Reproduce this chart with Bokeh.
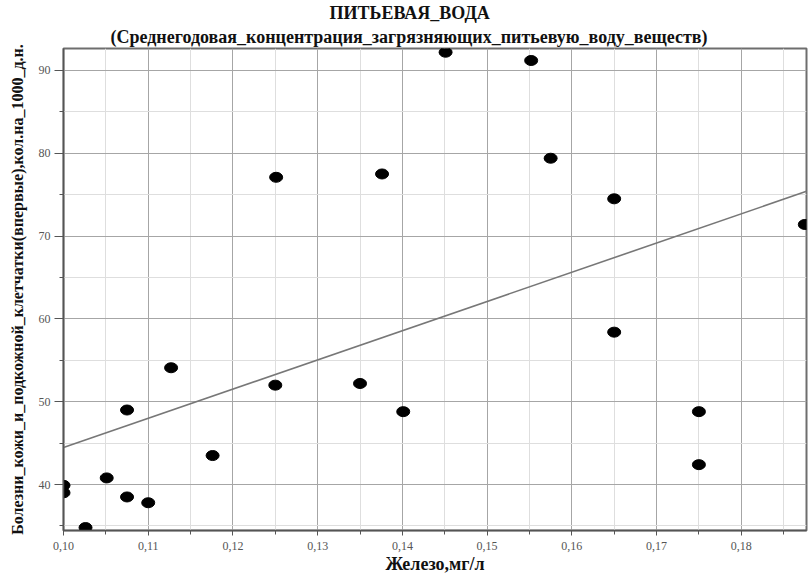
import numpy as np
from bokeh.plotting import figure
from bokeh.models import (FixedTicker, CustomJSTickFormatter, Title, ColumnDataSource, Range1d)
from bokeh.embed import file_html
from bokeh.resources import INLINE

# ---- data ----
iron = [0.1000, 0.1000, 0.1026, 0.1051, 0.1075, 0.1075, 0.1100, 0.1127, 0.1176,
        0.1250, 0.1251, 0.1350, 0.1376, 0.1401, 0.1451, 0.1552, 0.1575, 0.1650,
        0.1650, 0.1750, 0.1750, 0.1875]
skin = [39.9, 39.0, 34.8, 40.8, 49.0, 38.5, 37.8, 54.1, 43.5,
        52.0, 77.1, 52.2, 77.5, 48.8, 92.2, 91.2, 79.4, 74.5,
        58.4, 48.8, 42.4, 71.4]

x_ticks = [0.10, 0.11, 0.12, 0.13, 0.14, 0.15, 0.16, 0.17, 0.18]
x_tick_labels = ["0,10", "0,11", "0,12", "0,13", "0,14", "0,15", "0,16", "0,17", "0,18"]
x_minor = [0.105, 0.115, 0.125, 0.135, 0.145, 0.155, 0.165, 0.175, 0.185]
y_ticks = [40, 50, 60, 70, 80, 90]
y_tick_labels = ["40", "50", "60", "70", "80", "90"]
y_minor = [35, 45, 55, 65, 75, 85]

x_start, x_end = 0.10, 0.1877
y_start, y_end = 34.45, 92.65

title_main = "ПИТЬЕВАЯ_ВОДА"
title_sub = "(Среднегодовая_концентрация_загрязняющих_питьевую_воду_веществ)"
x_label = "Железо,мг/л"
y_label = "Болезни_кожи_и_подкожной_клетчатки(впервые),кол.на_1000_д.н."

# ---- figure ----
p = figure(width=812, height=576, output_backend="svg", toolbar_location=None,
           x_range=Range1d(x_start, x_end), y_range=Range1d(y_start, y_end),
           min_border_left=63, min_border_right=6, min_border_top=47, min_border_bottom=40)
p.background_fill_color = "white"
p.border_fill_color = "white"
p.outline_line_color = "#6e6e6e"
p.outline_line_width = 2

serif = "Liberation Serif"

sub = Title(text=title_sub, align="left", offset=47, text_font=serif,
            text_font_size="18px", text_font_style="bold", text_color="#111111", standoff=3)
main = Title(text=title_main, align="left", offset=266, text_font=serif,
             text_font_size="18px", text_font_style="bold", text_color="#111111", standoff=1)
p.add_layout(sub, "above")
p.add_layout(main, "above")

# axes
JS = """
const i = tvals.findIndex(t => Math.abs(t - tick) < 1e-9);
return i >= 0 ? tlabels[i] : '';
"""
xf = CustomJSTickFormatter(args=dict(tvals=x_ticks, tlabels=x_tick_labels), code=JS)
yf = CustomJSTickFormatter(args=dict(tvals=y_ticks, tlabels=y_tick_labels), code=JS)
p.xaxis.ticker = FixedTicker(ticks=x_ticks, minor_ticks=x_minor)
p.yaxis.ticker = FixedTicker(ticks=y_ticks, minor_ticks=y_minor)
p.xaxis.formatter = xf
p.yaxis.formatter = yf

for ax in (p.xaxis[0], p.yaxis[0]):
    ax.axis_line_color = "#555555"
    ax.axis_line_width = 1.5
    ax.major_tick_line_color = "#555555"
    ax.minor_tick_line_color = "#555555"
    ax.major_tick_in = 0
    ax.minor_tick_in = 0
    ax.major_label_text_font = serif
    ax.major_label_text_font_size = "12px"
    ax.major_label_text_color = "#555555"
    ax.axis_label_text_font = serif
    ax.axis_label_text_font_style = "bold"
    ax.axis_label_text_color = "#111111"

p.xaxis.axis_label = x_label
p.yaxis.axis_label = y_label
p.xaxis.axis_label_text_font_size = "18px"
p.yaxis.axis_label_text_font_size = "16px"
p.xaxis.major_tick_out = 5
p.xaxis.minor_tick_out = 4
p.xaxis.major_label_standoff = 6
p.xaxis.axis_label_standoff = 1
p.yaxis.major_tick_out = 9
p.yaxis.minor_tick_out = 4
p.yaxis.major_label_standoff = 4
p.yaxis.axis_label_standoff = 10

# grid
for g in (p.xgrid[0], p.ygrid[0]):
    g.grid_line_color = "#a6a6a6"
    g.grid_line_width = 1
    g.minor_grid_line_color = "#dedede"
    g.minor_grid_line_width = 1

# regression line computed from the data
coef = np.polyfit(iron, skin, 1)
line_x = [x_start, x_end]
line_y = [coef[0] * v + coef[1] for v in line_x]
p.line(line_x, line_y, line_color="#777777", line_width=1.6)

src = ColumnDataSource(dict(x=iron, y=skin))
p.ellipse(x="x", y="y", width=13, height=10, width_units="screen", height_units="screen",
          fill_color="black", line_color="black", source=src)

open("out.html", "w").write(file_html(p, INLINE))
